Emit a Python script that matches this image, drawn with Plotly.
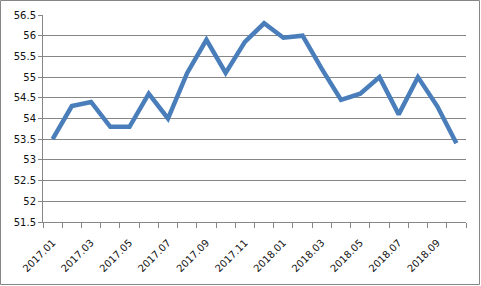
import plotly.graph_objects as go

months = ["2017.01", "2017.02", "2017.03", "2017.04", "2017.05", "2017.06",
          "2017.07", "2017.08", "2017.09", "2017.10", "2017.11", "2017.12",
          "2018.01", "2018.02", "2018.03", "2018.04", "2018.05", "2018.06",
          "2018.07", "2018.08", "2018.09", "2018.10"]
values = [53.5, 54.3, 54.4, 53.8, 53.8, 54.6, 54.0, 55.1, 55.9, 55.1, 55.85, 56.3,
          55.95, 56.0, 55.2, 54.45, 54.6, 55.0, 54.1, 55.0, 54.3, 53.4]
y_ticks = [51.5, 52, 52.5, 53, 53.5, 54, 54.5, 55, 55.5, 56, 56.5]

idx = list(range(len(months)))
W, H = 481, 286
ml, mr, mt, mb = 43, 15, 15, 64
pw, ph = W - ml - mr, H - mt - mb
grey = "#868686"
font = dict(family="DejaVu Sans", size=10, color="#111111")

fig = go.Figure()
fig.add_trace(go.Scatter(x=idx, y=values, mode="lines",
                         line=dict(color="#4a7ebb", width=4.5),
                         hoverinfo="skip"))

fig.update_layout(
    width=W, height=H,
    margin=dict(l=ml, r=mr, t=mt, b=mb, autoexpand=False),
    paper_bgcolor="white", plot_bgcolor="white",
    showlegend=False,
    xaxis=dict(range=[-0.5, len(months) - 0.5], tickmode="array",
               tickvals=idx[::2], ticktext=months[::2], tickangle=-45,
               ticks="", ticklabelstandoff=10, showgrid=False, showline=True,
               linecolor=grey, linewidth=1, tickfont=font, zeroline=False,
               automargin=False,
               minor=dict(tickmode="array",
                          tickvals=[i - 0.5 for i in idx] + [len(months) - 0.5],
                          ticks="outside", ticklen=5, tickcolor=grey,
                          tickwidth=1, showgrid=False)),
    yaxis=dict(range=[51.5, 56.5], tickmode="array", tickvals=y_ticks,
               ticktext=[f"{v:g}" for v in y_ticks],
               ticks="outside", ticklen=4, tickcolor=grey,
               showgrid=True, gridcolor=grey, gridwidth=1,
               showline=True, linecolor=grey, linewidth=1,
               tickfont=font, zeroline=False, automargin=False),
)

# outer chart-area border
fig.add_shape(type="rect", xref="paper", yref="paper",
              x0=(0.5 - ml) / pw, x1=(W - 1.5 - ml) / pw,
              y0=-(mb - 1.5) / ph, y1=1 + (mt - 0.5) / ph,
              line=dict(color=grey, width=1), layer="below")

fig.write_html("out.html")
